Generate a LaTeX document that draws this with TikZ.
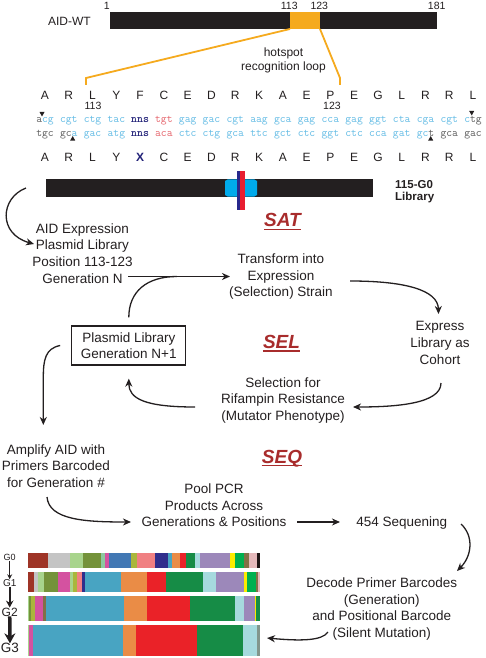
\documentclass[tikz,border=0pt]{standalone}
\usepackage{fontspec}
\setmainfont{Liberation Sans}
\usetikzlibrary{arrows.meta,calc}

\definecolor{inkgray}{RGB}{35,31,32}
\definecolor{loopgold}{RGB}{245,170,30}
\definecolor{seqcyan}{RGB}{96,186,228}
\definecolor{seqred}{RGB}{228,96,104}
\definecolor{seqnavy}{RGB}{34,34,120}
\definecolor{seqgray}{RGB}{88,88,88}
\definecolor{libcyan}{RGB}{0,170,235}
\definecolor{libred}{RGB}{232,30,48}
\definecolor{libnavy}{RGB}{40,40,140}
\definecolor{stagered}{RGB}{168,44,44}
% cohort colours
\definecolor{brn}{RGB}{158,52,38}
\definecolor{lgray}{RGB}{196,196,196}
\definecolor{lgreen}{RGB}{168,212,140}
\definecolor{olive}{RGB}{116,146,58}
\definecolor{mint}{RGB}{140,200,160}
\definecolor{mag}{RGB}{212,82,160}
\definecolor{sblue}{RGB}{66,120,180}
\definecolor{ylolive}{RGB}{170,182,60}
\definecolor{salmon}{RGB}{240,128,130}
\definecolor{navy}{RGB}{48,46,140}
\definecolor{teal}{RGB}{72,164,194}
\definecolor{orng}{RGB}{234,140,70}
\definecolor{rred}{RGB}{234,34,40}
\definecolor{ggreen}{RGB}{22,140,70}
\definecolor{lcyan}{RGB}{166,218,222}
\definecolor{lav}{RGB}{156,136,186}
\definecolor{yel}{RGB}{252,236,0}
\definecolor{bgreen}{RGB}{0,176,80}
\definecolor{obrown}{RGB}{130,112,70}
\definecolor{lpink}{RGB}{228,184,186}
\definecolor{blk}{RGB}{30,20,20}
\definecolor{ggray}{RGB}{130,150,140}

\tikzset{
  flow/.style={line width=1.3pt, draw=inkgray, -{Stealth[length=8pt,width=7pt,inset=2.5pt]}},
  body/.style={font=\fontsize{13.5}{16.6}\selectfont, text=inkgray, align=center, inner sep=0pt},
  resid/.style={font=\fontsize{12}{12}\selectfont, text=inkgray, inner sep=0pt, anchor=base},
  codon/.style={font=\ttfamily\fontsize{11.3}{12}\selectfont, text=seqcyan, inner sep=0pt, anchor=base},
  posnum/.style={font=\fontsize{10.5}{10.5}\selectfont, text=inkgray, inner sep=0pt, anchor=base},
  stage/.style={font=\fontsize{19}{19}\selectfont\bfseries\itshape, text=stagered, inner sep=0pt, anchor=base},
}

\begin{document}
\begin{tikzpicture}[x=1pt,y=-1pt]
    \useasboundingbox (0,0) rectangle (486,658);
    \pgfmathsetmacro{\dx}{23.78}

    \fill[inkgray] (110,12) rectangle (437,29);
    \fill[loopgold] (290,12) rectangle (320,29);
    \node[resid, anchor=base east] (wt) at (91,26) {AID-WT};
    \node[posnum] (p1) at (106.7,10) {1};
    \node[posnum] (p113) at (289.3,10) {113};
    \node[posnum] (p123) at (319.3,10) {123};
    \node[posnum] (p181) at (436.7,10) {181};
    \draw[loopgold, line width=1.8pt] (290,29) -- (86,78) -- (86,85);
    \draw[loopgold, line width=1.8pt] (320,29) -- (340,78) -- (340,85);
    \node[body, font=\fontsize{12}{14.3}\selectfont, anchor=base] (hot) at (283.5,71) {hotspot\\recognition loop};

    \foreach \aa [count=\i] in {A,R,L,Y,F,C,E,D,R,K,A,E,P,E,G,L,R,R,L}
        \node[resid] (res\i) at ({45+(\i-1)*\dx},99.3) {\aa};
    \node[posnum] (q113) at (93,110) {113};
    \node[posnum] (q123) at (332,110) {123};
    \foreach \cod [count=\i] in {{\textcolor{seqgray}{a}cg},cgt,ctg,tac,{\textcolor{seqnavy}{\bfseries nns}},{\textcolor{seqred}{tgt}},gag,gac,cgt,aag,gca,gag,cca,gag,ggt,cta,cga,cgt,{c\textcolor{seqgray}{tg}}}
        \node[codon] (top\i) at ({45+(\i-1)*\dx},123) {\cod};
    \foreach \cod [count=\i] in {{\textcolor{seqgray}{tgc}},{\textcolor{seqgray}{gc}a},gac,atg,{\textcolor{seqnavy}{\bfseries nns}},{\textcolor{seqred}{aca}},ctc,ctg,gca,ttc,gct,ctc,ggt,ctc,cca,gat,{gc\textcolor{seqgray}{t}},{\textcolor{seqgray}{gca}},{\textcolor{seqgray}{gac}}}
        \node[codon] (bot\i) at ({45+(\i-1)*\dx},136.5) {\cod};
    \fill[inkgray] (39.5,112) -- (44.5,112) -- (42,116.5) -- cycle;
    \fill[inkgray] (469.2,111) -- (474.2,111) -- (471.7,115.5) -- cycle;
    \fill[inkgray] (70.2,140.5) -- (75.2,140.5) -- (72.7,136) -- cycle;
    \fill[inkgray] (428.2,140.5) -- (433.2,140.5) -- (430.7,136) -- cycle;
    \foreach \aa [count=\i] in {A,R,L,Y,{\textcolor{seqnavy}{\bfseries X}},C,E,D,R,K,A,E,P,E,G,L,R,R,L}
        \node[resid] (mut\i) at ({45+(\i-1)*\dx},161.7) {\aa};

    \fill[inkgray] (46,179.3) rectangle (373.3,196.7);
    \fill[libcyan] (225,181) -- (228,179.3) -- (254,179.3) -- (257,181) -- (257,195) -- (254,196.7) -- (228,196.7) -- (225,195) -- cycle;
    \fill[libnavy] (236.7,171) rectangle (240,210);
    \fill[libred] (240,171) rectangle (244.5,210);
    \coordinate (libtail) at (26,188);
    \node[body, font=\fontsize{11.5}{12}\selectfont\bfseries, align=left, anchor=base west] (lib) at (395,200.3) {115-G0\\Library};

    \node[stage] (sat) at (282.5,226.7) {SAT};
    \node[stage] (sel) at (281.5,348.3) {SEL};
    \node[stage] (seq) at (282,463) {SEQ};
    \foreach \st in {sat,sel,seq}
        \draw[stagered, line width=1.3pt] ([yshift=-2.6pt]\st.base west) -- ([yshift=-2.6pt]\st.base east);

    \node[body, anchor=base] (aidexpr) at (82.5,283) {AID Expression\\Plasmid Library\\Position 113-123\\Generation N};
    \node[body, anchor=base] (transform) at (281,296.7) {Transform into\\Expression\\(Selection) Strain};
    \node[body, anchor=base] (express) at (440,364) {Express\\Library as\\Cohort};
    \node[body, anchor=base] (selection) at (283,420.3) {Selection for\\Rifampin Resistance\\(Mutator Phenotype)};
    \node[body, draw=inkgray, line width=1.3pt, minimum width=114pt, minimum height=39pt] (nextlib) at (128.8,345.5) {Plasmid Library\\Generation N+1};
    \node[body, anchor=base] (amplify) at (56,487.3) {Amplify AID with\\Primers Barcoded\\for Generation \#};
    \node[body, anchor=base] (pool) at (214,526.7) {Pool PCR\\Products Across\\Generations \& Positions};
    \node[body, anchor=base] (seq454) at (401.7,526.7) {454 Sequening};
    \node[body, anchor=base] (decode) at (381.7,637.3) {Decode Primer Barcodes\\(Generation)\\and Positional Barcode\\(Silent Mutation)};

    \draw[flow] (libtail) .. controls +(-26,10) and +(-36,-10) .. ([shift={(-48.5,-39)}]aidexpr.base);
    \draw[flow] ([shift={(45.5,-6.5)}]aidexpr.base) -- ([shift={(-51,-20.2)}]transform.base) coordinate[pos=0.48] (merge);
    \draw[line width=1.3pt, inkgray] ([yshift=8pt]nextlib.north) .. controls +(0,-26) and +(-30,0) .. (merge);
    \draw[flow] ([shift={(69,-15.7)}]transform.base) .. controls +(55,0) and +(-0.5,-24) .. ([shift={(-1.5,-50)}]express.base);
    \draw[flow] ([shift={(1,19)}]express.base) .. controls +(0,21) and +(42,0) .. ([shift={(70,-13.3)}]selection.base);
    \draw[flow] ([shift={(-88,-13.3)}]selection.base) .. controls +(-50,0) and +(0,20) .. ([yshift=-13pt]nextlib.south);
    \draw[flow] ([xshift=-11pt]nextlib.west) .. controls +(-15,3) and +(0,-18) .. ([shift={(-12.7,-109.3)}]amplify.base) -- ([shift={(-12.7,-62.3)}]amplify.base);
    \draw[flow] ([shift={(-9,9.7)}]amplify.base) .. controls +(2,23) and +(-46,0) .. ([shift={(-83,-4.7)}]pool.base);
    \draw[flow] ([shift={(83,-4.7)}]pool.base) -- ([shift={(-61.7,-4.7)}]seq454.base);
    \draw[flow] ([shift={(59.3,-2.7)}]seq454.base) .. controls +(13,12) and +(15,-15) .. ([shift={(75.3,-66.3)}]decode.base);

    \foreach \yt/\yb/\segs in {
        552.5/568.3/{47.7/brn,70/lgray,82.5/lgreen,100.7/olive,104.5/mint,109.3/mag,131/sblue,136.7/ylolive,155/salmon,168.3/navy,171.7/teal,180/orng,185.5/rred,195/ggreen,199.5/lcyan,230/lav,235/yel,243.5/bgreen,249.3/obrown,256.7/lpink,260/blk},
        571.7/591.5/{34/brn,37.5/lgray,44.3/lgreen,58.3/olive,70/mag,73.3/lgreen,76.7/ylolive,81.5/salmon,84.5/navy,120.5/teal,147/orng,165.7/rred,203.3/ggreen,216/lcyan,244/lav,247/yel,255.5/bgreen,257.5/obrown,260/lpink},
        596/621/{29.3/lgreen,31/olive,34.5/ylolive,42.7/mag,45.7/obrown,124/teal,147.3/orng,190.3/rred,234.7/ggreen,244/lcyan,254.7/lav,256.3/yel,260/ggreen},
        625/655.5/{29.3/lgreen,33.3/mag,123/teal,136/orng,197/rred,243.3/ggreen,257/lcyan,260/ggray}}
        \foreach \xe/\c [remember=\xe as \xs (initially 27.5)] in \segs
            \fill[\c] (\xs,\yt) rectangle (\xe,\yb);
    \coordinate (g3bar) at (260,640);
    \draw[flow] ([shift={(-53.7,-5.3)}]decode.base) .. controls +(-6,9) and +(33,3) .. ([shift={(7,-2)}]g3bar);

    \node[text=inkgray, inner sep=0pt, font=\fontsize{9}{9}\selectfont] (g0) at (9.7,557.5) {G0};
    \node[text=inkgray, inner sep=0pt, font=\fontsize{10}{10}\selectfont] (g1) at (9.7,583) {G1};
    \node[text=inkgray, inner sep=0pt, font=\fontsize{12}{12}\selectfont] (g2) at (9.7,612) {G2};
    \node[text=inkgray, inner sep=0pt, font=\fontsize{13.5}{13.5}\selectfont] (g3) at (10,648.3) {G3};
    \draw[inkgray, line width=1.2pt, -{Stealth[length=5pt,width=5pt]}] (g0) -- (g1);
    \draw[inkgray, line width=2pt, -{Stealth[length=7pt,width=7.5pt]}] (g1) -- (g2);
    \draw[inkgray, line width=3.5pt, -{Stealth[length=10pt,width=11pt]}] (g2) -- (g3);
\end{tikzpicture}
\end{document}
